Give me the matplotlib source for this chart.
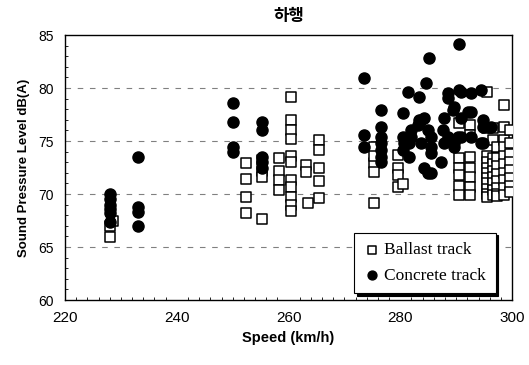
import numpy as np
import matplotlib
matplotlib.use("Agg")
from matplotlib import pyplot as plt
from matplotlib.ticker import MultipleLocator

plt.rcParams['font.family'] = ['Liberation Sans', 'Noto Sans CJK KR', 'DejaVu Sans']

# 자갈 궤도 (Ballast track): 속도, 음압
ballast_speed = [228, 228, 228.5,
                 252.3, 252.3, 252.3, 252.3,
                 255.3, 255.3, 255.3, 255.3,
                 258.2, 258.2, 258.2, 258.2,
                 260.5, 260.5, 260.5, 260.5, 260.5, 260.5, 260.5, 260.5, 260.5, 260.5, 260.5,
                 263.2, 263.2, 263.4,
                 265.4, 265.4, 265.4, 265.4, 265.4,
                 275.2, 275.2, 275.2, 275.2, 275.2,
                 279.5, 279.5, 279.5, 279.5, 280.5,
                 290.5, 290.5, 290.5, 290.5, 290.5, 290.5,
                 292.5, 292.5, 292.5, 292.5, 292.5, 292.5, 292.5,
                 295.5, 295.5, 295.5, 295.5, 295.5, 295.5, 295.5, 295.5, 295.5, 295.5, 295.5,
                 296.5, 296.5, 296.5, 296.5, 296.5, 296.5, 296.5, 296.5, 296.5,
                 297.3, 297.3, 297.3, 297.3, 297.3, 297.3, 297.3, 297.3,
                 298.6, 298.6, 298.6, 298.6, 298.6, 298.6, 298.6, 298.6, 298.6, 298.6,
                 299.6, 299.6, 299.6, 299.6, 299.6, 299.6, 299.6, 299.6]
ballast_spl = [67.0, 65.9, 67.5,
               72.9, 71.4, 69.7, 68.2,
               73.2, 72.2, 71.6, 67.6,
               73.4, 72.2, 71.3, 70.4,
               79.2, 77.0, 76.0, 75.2, 73.6, 73.0, 71.3, 70.7, 69.7, 69.0, 68.4,
               72.7, 72.1, 69.2,
               75.1, 74.2, 72.5, 71.2, 69.6,
               74.4, 72.9, 72.1, 69.2, 73.6,
               73.7, 72.5, 71.8, 70.7, 70.9,
               76.7, 73.4, 72.5, 71.8, 70.8, 69.9,
               76.5, 75.6, 73.5, 72.5, 71.6, 70.7, 69.9,
               79.6, 76.2, 73.6, 73.0, 72.5, 72.0, 71.5, 71.0, 70.5, 70.0, 69.7,
               76.2, 75.1, 73.4, 72.8, 72.2, 71.6, 71.0, 70.4, 69.9,
               74.4, 73.4, 72.6, 71.9, 71.2, 70.6, 70.0, 69.8,
               78.4, 76.3, 75.1, 74.4, 73.6, 72.8, 72.0, 71.3, 70.6, 69.9,
               76.0, 74.8, 73.8, 73.0, 72.3, 71.5, 70.8, 70.2]

# 콘크리트 궤도 (Concrete track)
concrete_speed = [228, 228, 228, 228, 228, 228,
                  233, 233, 233, 233,
                  250, 250, 250, 250,
                  255.3, 255.3, 255.3, 255.3, 255.3,
                  273.5, 273.5, 273.5,
                  276.6, 276.6, 276.6, 276.6, 276.6, 276.6, 276.6,
                  280.4, 280.4, 280.4, 280.6, 281.3, 281.5, 281.9, 281.9, 281.5,
                  283.1, 283.3, 283.3, 283.7, 283.7, 284.2, 284.2, 284.6, 284.9, 284.9,
                  285.1, 285.5, 285.5, 285.5, 285.5,
                  287.3, 287.6, 287.8, 287.8, 288.5, 288.5, 288.5, 288.7,
                  289.4, 289.6, 289.6, 289.6, 290.3, 290.5, 290.5, 290.9, 290.9, 290.9,
                  292.1, 292.6, 292.6, 292.6, 294.4, 294.8, 294.8, 294.8, 294.4, 296.2]
concrete_spl = [70.0, 69.5, 69.0, 68.6, 68.2, 67.4,
                73.5, 68.8, 68.3, 67.0,
                78.6, 76.8, 74.4, 74.0,
                76.8, 76.0, 73.5, 73.0, 72.5,
                80.9, 75.6, 74.4,
                77.9, 76.3, 75.4, 74.8, 74.2, 73.5, 73.0,
                77.6, 75.4, 74.2, 74.8, 79.6, 74.8, 76.0, 75.4, 73.5,
                76.5, 79.2, 77.0, 77.0, 74.8, 72.5, 77.2, 80.5, 72.0, 76.0,
                82.8, 75.4, 74.4, 73.9, 72.0,
                73.0, 76.0, 77.2, 74.8, 79.1, 75.4, 79.5, 75.1,
                77.9, 78.2, 74.8, 74.4, 75.4, 84.2, 79.8, 77.2, 75.4, 79.6,
                77.7, 79.5, 77.7, 75.4, 79.8, 77.0, 74.8, 76.3, 74.8, 76.3]

fig = plt.figure(figsize=(5.29, 3.65), dpi=100)
ax = fig.add_axes([0.123, 0.178, 0.845, 0.726])

ax.scatter(ballast_speed, ballast_spl, marker='s', s=50, facecolors='white',
           edgecolors='black', linewidths=1.1, label='Ballast track', zorder=3)
ax.scatter(concrete_speed, concrete_spl, marker='o', s=64, color='black',
           label='Concrete track', zorder=3)

ax.set_xlim(220, 300)
ax.set_ylim(60, 85)
ax.set_xticks([220, 240, 260, 280, 300])
ax.set_yticks([60, 65, 70, 75, 80, 85])
ax.xaxis.set_minor_locator(MultipleLocator(2))
ax.yaxis.set_minor_locator(MultipleLocator(1))
ax.tick_params(which='major', length=0)
ax.tick_params(which='minor', direction='in', length=2, width=0.6)
ax.tick_params(axis='x', labelsize=11, pad=8)
ax.tick_params(axis='y', labelsize=10, pad=8)
for v in [65, 70, 75, 80]:
    ax.axhline(v, color='gray', linestyle=(0, (5, 6)), linewidth=0.8, zorder=1)
for sp in ax.spines.values():
    sp.set_linewidth(1.0)

ax.set_xlabel('Speed (km/h)', fontsize=10.5, fontweight='bold', labelpad=4)
ax.set_ylabel('Sound Pressure Level dB(A)', fontsize=9.5, fontweight='bold', labelpad=6)
ax.set_title('하행', fontsize=12, fontweight='bold', pad=10)

leg = ax.legend(loc='lower right', bbox_to_anchor=(0.975, 0.005), frameon=True,
                fancybox=False, shadow={'color': 'black', 'alpha': 1.0}, prop={'family': 'Liberation Serif', 'size': 12.5},
                handletextpad=0.2, borderpad=0.55, labelspacing=0.55, markerscale=0.8,
                borderaxespad=0.3, handlelength=1.0)
leg.get_frame().set_edgecolor('black')
leg.get_frame().set_linewidth(0.8)

fig.savefig('out.png', dpi=100)
